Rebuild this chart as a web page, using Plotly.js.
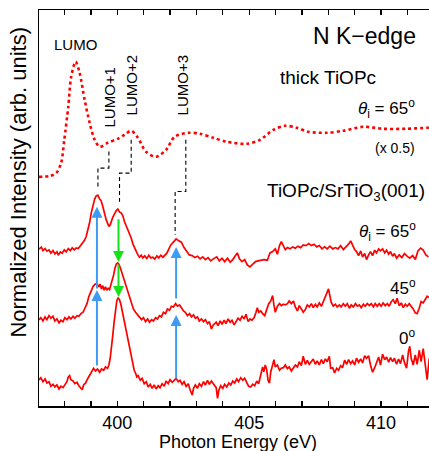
<!DOCTYPE html>
<html><head><meta charset="utf-8">
<script src="https://cdn.plot.ly/plotly-3.0.1.min.js"></script>
<style>html,body{margin:0;padding:0;background:#fff;overflow:hidden}#chart{width:429px;height:451px}</style>
</head><body><div id="chart"></div>
<script>
// Photon energy ticks
const tickVals = [397,398,399,400,401,402,403,404,405,406,407,408,409,410,411];
const tickText = ["","","","400","","","","","405","","","","","410",""];

// thick TiOPc, theta = 65 deg (x0.5)
const thickX = [397.03,397.46,397.69,397.87,397.99,398.14,398.25,398.42,398.57,398.76,398.95,399.14,399.33,399.64,400.02,400.27,400.53,400.78,401.09,401.47,401.85,402.17,402.70,403.14,403.64,404.15,404.91,405.41,405.92,406.36,406.80,407.24,407.94,408.57,409.33,410.08,410.97,411.73,411.85];
const thickY = [2.29,2.30,2.33,2.43,2.66,2.99,3.29,3.44,3.33,3.06,2.83,2.66,2.59,2.63,2.67,2.71,2.75,2.68,2.54,2.49,2.56,2.69,2.73,2.72,2.68,2.64,2.62,2.66,2.76,2.80,2.78,2.74,2.73,2.75,2.79,2.77,2.77,2.78,2.78];

// TiOPc/SrTiO3(001), theta = 65 deg
const th65X = [397.03,397.12,397.18,397.26,397.33,397.41,397.48,397.56,397.635,397.71,397.76,397.84,397.91,397.99,398.06,398.14,398.22,398.29,398.37,398.44,398.52,398.59,398.67,398.75,398.82,398.885,398.95,399.01,399.07,399.14,399.20,399.26,399.33,399.38,399.43,399.48,399.53,399.58,399.63,399.68,399.73,399.78,399.83,399.895,399.96,400.02,400.08,400.15,400.21,400.27,400.34,400.40,400.46,400.53,400.59,400.65,400.72,400.78,400.84,400.905,400.97,401.04,401.12,401.195,401.27,401.35,401.42,401.50,401.57,401.65,401.73,401.80,401.88,401.95,402.03,402.11,402.18,402.23,402.33,402.43,402.53,402.63,402.73,402.84,402.94,403.04,403.14,403.24,403.34,403.44,403.54,403.64,403.77,403.87,403.97,404.07,404.18,404.28,404.38,404.48,404.55,404.63,404.73,404.83,404.93,405.03,405.13,405.24,405.34,405.44,405.56,405.69,405.79,405.89,405.99,406.07,406.15,406.22,406.30,406.37,406.45,406.55,406.65,406.75,406.85,406.95,407.05,407.15,407.26,407.36,407.46,407.56,407.66,407.76,407.86,407.96,408.06,408.17,408.27,408.37,408.47,408.57,408.67,408.77,408.85,408.92,409.00,409.07,409.15,409.23,409.30,409.38,409.45,409.53,409.60,409.68,409.76,409.83,409.91,409.98,410.06,410.14,410.21,410.29,410.36,410.44,410.51,410.59,410.69,410.79,410.89,410.99,411.09,411.20,411.30,411.40,411.50,411.60,411.70,411.80];
const th65Y = [1.567,1.587,1.553,1.573,1.547,1.56,1.527,1.553,1.52,1.54,1.507,1.54,1.527,1.56,1.54,1.573,1.553,1.58,1.56,1.58,1.573,1.60,1.62,1.653,1.693,1.76,1.833,1.927,2.00,2.067,2.10,2.107,2.067,2.053,2.013,1.96,1.90,1.86,1.827,1.793,1.81,1.86,1.887,1.92,1.953,1.967,1.94,1.927,1.90,1.843,1.80,1.76,1.71,1.677,1.62,1.587,1.533,1.51,1.487,1.507,1.48,1.50,1.473,1.507,1.48,1.487,1.467,1.50,1.48,1.507,1.487,1.507,1.527,1.567,1.61,1.633,1.66,1.67,1.65,1.637,1.583,1.543,1.51,1.503,1.483,1.497,1.47,1.49,1.463,1.483,1.45,1.47,1.49,1.45,1.477,1.443,1.477,1.437,1.463,1.503,1.53,1.47,1.443,1.463,1.41,1.39,1.417,1.443,1.45,1.457,1.463,1.457,1.53,1.543,1.57,1.517,1.603,1.643,1.59,1.563,1.583,1.57,1.59,1.577,1.597,1.583,1.61,1.603,1.623,1.603,1.617,1.59,1.603,1.57,1.59,1.57,1.597,1.57,1.583,1.57,1.603,1.563,1.59,1.617,1.65,1.61,1.563,1.543,1.503,1.55,1.49,1.523,1.463,1.51,1.543,1.503,1.557,1.53,1.57,1.55,1.57,1.53,1.557,1.517,1.543,1.497,1.523,1.477,1.51,1.483,1.523,1.497,1.477,1.503,1.463,1.55,1.577,1.557,1.51,1.49];

// TiOPc/SrTiO3(001), theta = 45 deg
const th45X = [397.03,397.10,397.18,397.26,397.33,397.41,397.48,397.56,397.63,397.71,397.79,397.86,397.94,398.01,398.09,398.165,398.24,398.32,398.39,398.47,398.54,398.62,398.70,398.77,398.85,398.92,399.00,399.07,399.15,399.23,399.30,399.35,399.40,399.45,399.50,399.55,399.60,399.65,399.705,399.76,399.81,399.86,399.91,399.96,400.01,400.06,400.11,400.16,400.21,400.26,400.31,400.36,400.41,400.46,400.51,400.56,400.61,400.69,400.77,400.84,400.92,400.99,401.07,401.15,401.22,401.30,401.37,401.45,401.52,401.60,401.675,401.75,401.83,401.90,401.98,402.05,402.13,402.21,402.28,402.36,402.43,402.51,402.58,402.66,402.74,402.81,402.89,402.96,403.04,403.11,403.19,403.27,403.34,403.42,403.49,403.57,403.64,403.75,403.82,403.90,403.97,404.05,404.12,404.20,404.28,404.35,404.43,404.50,404.58,404.655,404.73,404.81,404.88,404.96,405.03,405.11,405.19,405.26,405.31,405.36,405.44,405.51,405.59,405.665,405.74,405.82,405.89,405.94,405.99,406.07,406.15,406.22,406.30,406.37,406.45,406.52,406.60,406.68,406.75,406.83,406.90,406.98,407.05,407.13,407.205,407.28,407.36,407.43,407.51,407.58,407.66,407.74,407.81,407.89,407.96,408.01,408.06,408.11,408.19,408.27,408.34,408.42,408.49,408.57,408.645,408.72,408.80,408.87,408.95,409.03,409.10,409.18,409.25,409.33,409.40,409.48,409.56,409.63,409.71,409.78,409.86,409.93,410.01,410.08,410.16,410.24,410.31,410.39,410.46,410.54,410.61,410.69,410.77,410.84,410.92,410.99,411.07,411.145,411.22,411.30,411.37,411.45,411.52,411.60,411.68,411.75,411.83];
const th45Y = [0.86,0.883,0.85,0.89,0.863,0.903,0.877,0.897,0.85,0.87,0.83,0.857,0.843,0.883,0.863,0.89,0.87,0.897,0.877,0.903,0.897,0.923,0.937,0.977,1.023,1.093,1.143,1.19,1.217,1.223,1.19,1.217,1.17,1.203,1.157,1.19,1.157,1.177,1.163,1.217,1.243,1.31,1.377,1.417,1.43,1.417,1.383,1.343,1.31,1.27,1.217,1.17,1.143,1.097,1.057,1.01,0.97,0.937,0.91,0.897,0.863,0.883,0.843,0.87,0.837,0.863,0.85,0.883,0.87,0.903,0.89,0.937,0.923,0.97,0.957,0.997,0.99,1.023,0.997,1.01,0.977,0.95,0.937,0.903,0.923,0.89,0.91,0.877,0.89,0.85,0.87,0.843,0.863,0.823,0.843,0.77,0.81,0.837,0.803,0.85,0.817,0.857,0.823,0.87,0.837,0.857,0.81,0.837,0.877,0.857,0.897,0.87,0.917,0.843,0.87,0.857,0.883,0.937,0.983,0.937,0.95,0.923,0.903,0.963,1.023,1.05,1.103,1.01,0.937,0.997,1.023,1.003,1.017,1.01,1.023,1.05,1.023,1.05,0.99,0.95,1.003,0.97,0.937,0.963,1.01,0.99,1.023,0.983,1.017,0.99,1.03,0.997,1.043,1.09,1.143,1.17,1.103,1.037,0.997,1.017,0.99,1.01,0.99,1.023,0.997,1.023,0.977,1.01,0.99,1.023,0.997,1.01,0.983,1.017,0.997,1.023,1.003,1.023,0.99,1.023,0.997,1.023,0.997,1.03,1.003,1.023,0.997,1.043,1.063,1.023,1.077,1.003,1.03,0.983,1.017,0.997,1.023,0.997,0.97,0.93,0.923,0.977,1.043,1.03,1.063,1.097,1.083];

// TiOPc/SrTiO3(001), theta = 0 deg
const th0X = [397.03,397.10,397.18,397.26,397.33,397.41,397.48,397.56,397.63,397.71,397.79,397.86,397.94,398.01,398.09,398.14,398.19,398.24,398.32,398.39,398.47,398.54,398.62,398.67,398.72,398.80,398.87,398.95,399.02,399.10,399.17,399.25,399.33,399.40,399.48,399.55,399.63,399.68,399.73,399.78,399.83,399.88,399.93,399.98,400.03,400.08,400.135,400.185,400.235,400.29,400.34,400.39,400.44,400.49,400.54,400.59,400.64,400.69,400.74,400.79,400.87,400.94,401.02,401.10,401.17,401.25,401.32,401.40,401.47,401.55,401.62,401.70,401.78,401.85,401.93,402.00,402.08,402.155,402.23,402.31,402.38,402.46,402.53,402.61,402.69,402.76,402.84,402.89,402.96,403.04,403.11,403.19,403.27,403.34,403.42,403.49,403.57,403.64,403.75,403.80,403.85,403.92,404.00,404.07,404.15,404.23,404.30,404.38,404.45,404.53,404.60,404.68,404.76,404.83,404.91,404.98,405.06,405.135,405.21,405.29,405.36,405.44,405.51,405.56,405.61,405.665,405.715,405.77,405.82,405.89,405.94,405.99,406.07,406.15,406.22,406.30,406.37,406.45,406.52,406.60,406.68,406.75,406.83,406.90,406.98,407.05,407.13,407.205,407.28,407.36,407.43,407.51,407.58,407.66,407.74,407.81,407.89,407.96,408.04,408.09,408.17,408.24,408.32,408.39,408.47,408.54,408.62,408.70,408.77,408.85,408.92,409.00,409.07,409.15,409.23,409.30,409.38,409.45,409.53,409.60,409.68,409.76,409.83,409.91,409.98,410.06,410.14,410.21,410.29,410.36,410.44,410.51,410.59,410.665,410.74,410.82,410.89,410.97,411.04,411.09,411.145,411.22,411.30,411.37,411.45,411.52,411.60,411.68,411.75,411.83];
const th0Y = [0.26,0.283,0.243,0.27,0.23,0.243,0.197,0.217,0.19,0.21,0.17,0.197,0.183,0.217,0.243,0.29,0.303,0.263,0.25,0.223,0.237,0.203,0.183,0.163,0.21,0.23,0.27,0.303,0.343,0.377,0.35,0.37,0.337,0.37,0.357,0.39,0.377,0.41,0.477,0.577,0.71,0.843,0.96,1.05,1.083,1.063,1.017,0.95,0.877,0.81,0.737,0.67,0.603,0.537,0.477,0.41,0.357,0.33,0.29,0.303,0.257,0.277,0.223,0.243,0.19,0.217,0.177,0.21,0.17,0.203,0.183,0.223,0.197,0.25,0.223,0.263,0.237,0.257,0.277,0.243,0.257,0.217,0.243,0.197,0.223,0.163,0.11,0.177,0.21,0.177,0.223,0.197,0.243,0.21,0.257,0.217,0.25,0.223,0.183,0.077,0.157,0.203,0.177,0.217,0.19,0.23,0.21,0.25,0.23,0.27,0.243,0.283,0.257,0.277,0.237,0.197,0.19,0.217,0.203,0.25,0.223,0.317,0.39,0.343,0.41,0.363,0.257,0.23,0.343,0.41,0.463,0.39,0.41,0.357,0.377,0.383,0.41,0.373,0.39,0.35,0.383,0.41,0.39,0.443,0.403,0.497,0.417,0.457,0.417,0.443,0.47,0.417,0.45,0.41,0.463,0.423,0.47,0.443,0.497,0.377,0.383,0.33,0.377,0.357,0.403,0.383,0.457,0.417,0.463,0.423,0.45,0.41,0.477,0.437,0.47,0.43,0.503,0.477,0.503,0.41,0.337,0.383,0.437,0.49,0.41,0.517,0.463,0.49,0.437,0.483,0.443,0.477,0.417,0.47,0.423,0.51,0.433,0.377,0.543,0.597,0.477,0.41,0.51,0.417,0.557,0.443,0.573,0.377,0.263,0.477];

// Dashed guides linking LUMO features of thick film to the interface spectra
const guide1X = [399.68,399.68,399.265,399.265];
const guide1Y = [2.543,2.377,2.377,2.177];
const guide2X = [400.526,400.526,400.083,400.083];
const guide2Y = [2.66,2.327,2.327,2.04];
const guide3X = [402.598,402.598,402.193,402.193];
const guide3Y = [2.66,2.143,2.143,1.71];

// Arrows: energy, tail intensity, tip intensity
const blueArrowX = [399.227,399.227,402.23,402.23];
const blueArrowTail = [0.39,1.16,0.26,1.06];
const blueArrowTip = [1.16,1.99,0.91,1.59];
const greenArrowX = [400.045,400.045];
const greenArrowTail = [1.88,1.43];
const greenArrowTip = [1.44,1.09];

const FONT = "Liberation Sans, Arial, Helvetica, sans-serif";
const RED = "#ff0000";

const traces = [
  {x: thickX, y: thickY, mode: "lines", line: {color: RED, width: 2.6, dash: "dot", shape: "spline", smoothing: 0.8}, hoverinfo: "skip"},
  {x: th65X, y: th65Y, mode: "lines", line: {color: RED, width: 1.7}, hoverinfo: "skip"},
  {x: th45X, y: th45Y, mode: "lines", line: {color: RED, width: 1.7}, hoverinfo: "skip"},
  {x: th0X, y: th0Y, mode: "lines", line: {color: RED, width: 1.7}, hoverinfo: "skip"},
  {x: guide1X, y: guide1Y, mode: "lines", line: {color: "#000", width: 1.1, dash: "4px,3px"}, hoverinfo: "skip"},
  {x: guide2X, y: guide2Y, mode: "lines", line: {color: "#000", width: 1.1, dash: "4px,3px"}, hoverinfo: "skip"},
  {x: guide3X, y: guide3Y, mode: "lines", line: {color: "#000", width: 1.1, dash: "4px,3px"}, hoverinfo: "skip"}
];

const ann = [];
function arrow(x, tail, tip, color) {
  ann.push({x: x, y: tip, ax: x, ay: tail, xref: "x", yref: "y", axref: "x", ayref: "y",
    text: "", showarrow: true, arrowhead: 2, arrowsize: 1.1, arrowwidth: 2, arrowcolor: color, standoff: 0, startstandoff: 0});
}
blueArrowX.forEach((x, i) => arrow(x, blueArrowTail[i], blueArrowTip[i], "#3d9bf5"));
greenArrowX.forEach((x, i) => arrow(x, greenArrowTail[i], greenArrowTip[i], "#16e016"));

function label(text, x, y, size, xanchor, angle) {
  ann.push({x: x, y: y, xref: "x", yref: "y", text: text, showarrow: false,
    xanchor: xanchor || "center", yanchor: "middle", textangle: angle || 0,
    font: {family: FONT, size: size, color: "#000"}});
}
label("LUMO", 398.405, 3.615, 15);
label("LUMO+1", 399.693, 3.085, 15, "center", -90);
label("LUMO+2", 400.545, 3.20, 15, "center", -90);
label("LUMO+3", 402.477, 3.20, 15, "center", -90);
label("N K\u2212edge", 411.41, 3.70, 23, "right");
label("thick TiOPc", 407.99, 3.285, 19);
label("<i>\u03b8</i><sub>i</sub> = 65<sup>o</sup>", 411.37, 2.975, 17, "right");
label("(x 0.5)", 411.36, 2.575, 14, "right");
label("TiOPc/SrTiO<sub>3</sub>(001)", 411.74, 2.135, 19, "right");
label("<i>\u03b8</i><sub>i</sub> = 65<sup>o</sup>", 411.40, 1.74, 17, "right");
label("45<sup>o</sup>", 411.40, 1.185, 17, "right");
label("0<sup>o</sup>", 411.36, 0.685, 17, "right");

// Axis titles (placed as in the reference figure)
ann.push({xref: "paper", yref: "paper", x: -0.053, y: 0.565, text: "Normalized Intensity (arb. units)",
  textangle: -90, showarrow: false, xanchor: "center", yanchor: "middle",
  font: {family: FONT, size: 22, color: "#000"}});
ann.push({xref: "paper", yref: "paper", x: 0.51, y: -0.091, text: "Photon Energy (eV)",
  showarrow: false, xanchor: "center", yanchor: "middle",
  font: {family: FONT, size: 18, color: "#000"}});

const layout = {
  width: 429, height: 451,
  margin: {l: 39, r: 0, t: 10, b: 45, pad: 0},
  paper_bgcolor: "#fff", plot_bgcolor: "#fff",
  showlegend: false,
  font: {family: FONT, color: "#000"},
  xaxis: {
    range: [397.03, 411.82], showgrid: false, zeroline: false,
    showline: true, linecolor: "#000", linewidth: 1.5, mirror: "ticks",
    ticks: "inside", ticklen: 5, tickwidth: 1.2, tickcolor: "#000",
    tickmode: "array", tickvals: tickVals, ticktext: tickText,
    tickfont: {family: FONT, size: 18, color: "#000"}
  },
  yaxis: {
    range: [0, 3.957], showgrid: false, zeroline: false,
    showline: true, linecolor: "#000", linewidth: 1.5, mirror: false,
    ticks: "", showticklabels: false
  },
  annotations: ann
};

Plotly.newPlot("chart", traces, layout, {staticPlot: true, displayModeBar: false});
</script></body></html>
